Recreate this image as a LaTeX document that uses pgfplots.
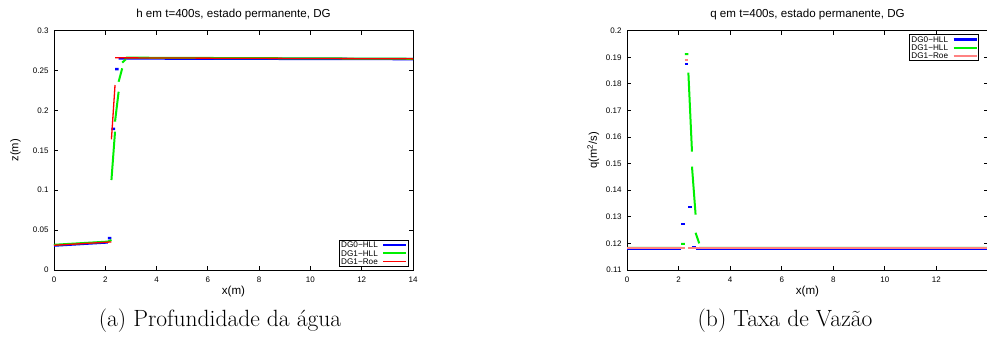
\documentclass[border=0pt]{standalone}
\usepackage{fontspec}
\usepackage{pgfplots}
\pgfplotsset{compat=1.18}
\newfontfamily\hv{Liberation Sans}
\definecolor{gpblue}{RGB}{0,0,255}
\definecolor{gpgreen}{RGB}{0,240,0}
\definecolor{gpred}{RGB}{255,0,0}
\definecolor{gppink}{RGB}{255,130,130}
\pgfplotsset{gp/.style={
  scale only axis, height=239.3pt, anchor=south west,
  axis line style={line width=0.9pt,black},
  tick align=inside, major tick length=4pt,
  every tick/.style={black,line width=0.8pt},
  tick label style={font=\hv\fontsize{8}{9}\selectfont},
  /pgf/number format/assume math mode=true,
  xmin=0,xmax=14,
  scaled y ticks=false, scaled x ticks=false,
  yticklabel style={/pgf/number format/fixed,/pgf/number format/precision=2,xshift=-2pt},
  xticklabel style={yshift=-3pt},
  every axis x label/.style={at={(rel axis cs:0.5,0)}, anchor=center, yshift=-22pt, font=\hv\fontsize{11.6}{13}\selectfont},
  every axis y label/.style={at={(rel axis cs:0,0.5)}, anchor=center, font=\hv\fontsize{11.2}{13}\selectfont},
  legend cell align=left, legend plot pos=right,
  legend style={font=\hv\fontsize{8.2}{9}\selectfont, draw=black, line width=0.8pt, inner sep=0.5pt, row sep=0pt, column sep=3pt,
    nodes={inner sep=1.2pt, text height=5.9pt, text depth=0pt}},
  legend image code/.code={\draw[#1] (0pt,0pt) -- (23pt,0pt);},
  unbounded coords=jump,
}}
\begin{document}
\begin{tikzpicture}
\useasboundingbox (0,0) rectangle (987pt,339pt);
\begin{axis}[gp, at={(54pt,69pt)}, width=359pt,
  xtick={0,2,4,6,8,10,12,14},
  ymin=0, ymax=0.3, ytick={0,0.05,0.1,0.15,0.2,0.25,0.3},
  xlabel={x(m)},
  ylabel={z(m)}, ylabel style={xshift=-38.5pt, rotate=90},
  legend style={at={(0.987,0.0138)}, anchor=south east}]
\addplot[gpblue, line width=2.4pt] coordinates {
 (0,0.0306) (2.10,0.0346) (2.10,nan)
 (2.10,0.0400) (2.24,0.0400) (2.24,nan)
 (2.24,0.1770) (2.38,0.1770) (2.38,nan)
 (2.38,0.2518) (2.52,0.2518) (2.52,nan)
 (2.52,0.2652) (2.66,0.2652) (14,0.2644)
};
\addlegendentry{DG0−HLL}
\addplot[gpgreen, line width=2pt] coordinates {
 (0,0.0316) (2.10,0.0356) (2.24,0.0376) (2.24,nan)
 (2.24,0.1128) (2.38,0.1734) (2.38,nan)
 (2.38,0.1860) (2.52,0.2235) (2.52,nan)
 (2.52,0.2360) (2.66,0.2528) (2.66,nan)
 (2.66,0.2600) (2.80,0.2641) (2.80,nan)
 (2.80,0.2662) (14,0.2648)
};
\addlegendentry{DG1−HLL}
\addplot[gpred, line width=1.3pt] coordinates {
 (0,0.0310) (2.24,0.0352) (2.24,nan)
 (2.24,0.1638) (2.38,0.2319) (2.38,nan)
 (2.38,0.2660) (14,0.2647)
};
\addlegendentry{DG1−Roe}
\end{axis}
\begin{axis}[gp, at={(627pt,69pt)}, width=361pt,
  xtick={0,2,4,6,8,10,12},
  ymin=0.11, ymax=0.2, ytick={0.11,0.12,0.13,0.14,0.15,0.16,0.17,0.18,0.19,0.2},
  xlabel={x(m)},
  ylabel={q(m\textsuperscript{2}/s)}, ylabel style={xshift=-33.7pt, rotate=90},
  legend style={at={(0.782,0.985)}, anchor=north west}]
\addplot[gpblue, line width=2.4pt] coordinates {
 (0,0.1178) (2.10,0.1178) (2.10,nan)
 (2.10,0.1274) (2.24,0.1274) (2.24,nan)
 (2.24,0.1875) (2.38,0.1875) (2.38,nan)
 (2.38,0.1338) (2.52,0.1338) (2.52,nan)
 (2.52,0.1185) (2.66,0.1185) (2.66,nan)
 (2.66,0.1178) (14,0.1178)
};
\addlegendentry{DG0−HLL}
\addplot[gpgreen, line width=2pt] coordinates {
 (0,0.1183) (2.10,0.1183) (2.10,nan)
 (2.10,0.1198) (2.24,0.1198) (2.24,nan)
 (2.24,0.1912) (2.38,0.1912) (2.38,nan)
 (2.38,0.1842) (2.52,0.1545) (2.52,nan)
 (2.52,0.1489) (2.66,0.1308) (2.66,nan)
 (2.66,0.1240) (2.80,0.1200) (2.80,nan)
 (2.80,0.1183) (14,0.1183)
};
\addlegendentry{DG1−HLL}
\addplot[gppink, line width=2pt] coordinates {
 (0,0.1181) (2.24,0.1181) (2.24,nan)
 (2.24,0.1890) (2.38,0.1890) (2.38,nan)
 (2.38,0.1181) (14,0.1181)
};
\addlegendentry{DG1−Roe}
\end{axis}
\node[font=\hv\fontsize{11.6}{13}\selectfont, anchor=center] at (233.5pt,324pt) {h em t=400s, estado permanente, DG};
\node[font=\hv\fontsize{11.6}{13}\selectfont, anchor=center] at (807.5pt,324pt) {q em t=400s, estado permanente, DG};
\node[font=\fontsize{23.5}{28}\selectfont] at (220pt,18pt) {(a) Profundidade da água};
\node[font=\fontsize{23.5}{28}\selectfont] at (785pt,18pt) {(b) Taxa de Vazão};
\end{tikzpicture}
\end{document}
